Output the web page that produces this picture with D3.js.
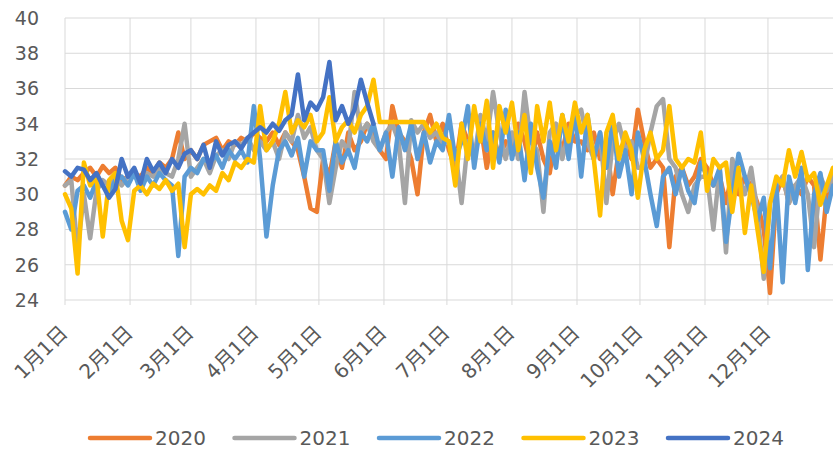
<!DOCTYPE html>
<html>
<head>
<meta charset="utf-8">
<script src="https://cdn.jsdelivr.net/npm/d3@7"></script>
<style>
  body { margin: 0; background: #fff; }
  svg { display: block; }
</style>
</head>
<body>
<svg></svg>
<script>
var width = 833;
var height = 450;

// one value every 3 days, starting at 1 Jan
var stepDays = 3;

var years = ['2020', '2021', '2022', '2023', '2024'];
var colors = ['#ED7D31', '#A5A5A5', '#5B9BD5', '#FFC000', '#4472C4'];

var v2020 = [30.5, 31.0, 30.8, 31.2, 31.5, 31.0, 31.6, 31.2, 31.5, 30.8, 31.0,
	31.2, 31.0, 31.5, 31.2, 31.8, 31.5, 32.0, 33.5, 32.0,
	32.5, 32.0, 32.8, 33.0, 33.2, 32.5, 33.0, 32.8, 33.2, 33.0, 33.5,
	33.2, 33.0, 33.5, 32.8, 33.5, 33.0, 32.5, 31.0, 29.2, 29.0,
	32.0, 31.0, 33.0, 31.5, 33.5, 32.5, 33.0, 34.0, 33.5, 32.5,
	32.0, 35.0, 33.5, 33.0, 32.0, 30.0, 33.5, 34.5, 33.0, 34.0,
	32.5, 31.5, 34.0, 33.0, 32.0, 34.0, 31.5, 33.5, 32.0, 33.0,
	32.5, 34.0, 33.0, 31.5, 33.5, 32.0, 31.2, 33.5, 32.5, 34.0, 33.0,
	33.0, 32.5, 33.5, 32.0, 33.0, 30.0, 32.5, 33.0, 32.0, 34.8,
	33.0, 31.5, 32.0, 31.5, 27.0, 31.0, 31.5, 30.5, 31.0, 32.0,
	31.5, 30.5, 31.0, 29.5, 31.3, 30.0, 31.0, 30.5, 29.5, 28.0,
	24.4, 30.0, 31.0, 29.5, 30.5, 30.0, 31.0, 30.5, 26.3, 30.0, 31.0];

var v2021 = [30.5, 30.8, 26.8, 30.0, 27.5, 30.2, 30.8, 30.5, 31.0, 30.5, 31.0,
	31.0, 30.8, 31.2, 31.0, 31.5, 31.2, 31.0, 32.0, 34.0,
	31.0, 31.5, 32.0, 31.2, 32.2, 32.5, 32.0, 33.0, 32.8, 33.2, 32.5,
	33.0, 32.5, 33.0, 32.0, 33.5, 33.0, 34.5, 33.2, 33.8, 32.5,
	32.0, 29.5, 31.5, 33.0, 32.5, 35.8, 33.5, 34.0, 33.0, 32.5,
	33.5, 34.0, 33.0, 29.5, 34.2, 33.5, 34.0, 33.2, 33.5, 32.8,
	33.0, 32.5, 29.5, 33.0, 32.0, 34.5, 33.0, 35.8, 33.5, 32.0,
	33.5, 32.0, 35.8, 33.0, 32.5, 29.0, 33.5, 34.0, 32.0, 33.5, 34.5,
	34.8, 33.0, 32.0, 33.5, 29.5, 33.0, 34.0, 32.5, 33.0, 31.5,
	31.5, 33.5, 35.0, 35.4, 32.0, 31.5, 30.0, 29.0, 30.5, 31.0,
	31.0, 28.0, 31.5, 26.7, 32.0, 31.0, 30.0, 31.5, 29.0, 25.2,
	29.5, 30.5, 31.0, 29.5, 30.5, 31.0, 30.0, 27.0, 31.0, 30.2, 31.0];

var v2022 = [29.0, 28.0, 30.2, 30.5, 29.8, 30.8, 30.5, 30.0, 30.8, 31.0, 30.5,
	31.2, 30.2, 31.0, 30.5, 31.2, 30.8, 30.5, 26.5, 31.0,
	31.5, 31.2, 32.0, 31.8, 32.2, 31.5, 32.5, 32.0, 32.5, 31.8, 35.0,
	32.0, 27.6, 30.5, 32.5, 33.0, 32.2, 33.2, 31.0, 33.0, 32.5,
	32.5, 30.2, 33.0, 31.8, 32.5, 31.5, 33.5, 33.0, 34.0, 32.5,
	33.5, 31.0, 33.8, 32.5, 34.0, 32.0, 33.5, 31.8, 33.0, 32.5,
	34.5, 32.0, 33.0, 35.0, 31.5, 34.0, 32.5, 33.5, 31.8, 34.8,
	32.0, 33.5, 30.8, 34.0, 31.5, 29.8, 33.0, 31.5, 34.5, 32.0, 34.8,
	31.0, 34.5, 32.0, 33.5, 31.5, 34.2, 31.0, 32.5, 30.0, 33.5,
	32.0, 30.0, 28.2, 31.0, 31.5, 30.0, 31.5, 30.2, 29.5, 31.8,
	31.0, 30.5, 31.5, 27.3, 30.0, 32.3, 31.0, 30.0, 28.5, 29.8,
	25.8, 30.5, 25.0, 31.0, 29.5, 31.5, 25.7, 30.0, 31.2, 29.0, 30.5];

var v2023 = [30.0, 29.2, 25.5, 31.8, 30.5, 31.0, 27.6, 30.8, 31.2, 28.5, 27.4,
	30.2, 30.5, 30.0, 30.6, 30.3, 30.8, 30.2, 30.6, 27.0,
	30.0, 30.3, 30.0, 30.5, 30.2, 31.2, 30.8, 31.8, 31.5, 32.0, 31.8,
	35.0, 32.5, 33.0, 34.0, 35.8, 33.5, 34.2, 33.8, 34.5, 33.0,
	33.5, 35.5, 33.0, 33.8, 34.2, 33.5, 34.5, 35.0, 36.5, 34.1,
	34.1, 34.1, 34.1, 34.1, 34.1, 34.1, 34.1, 33.5, 34.0, 33.2,
	33.0, 30.5, 34.0, 32.0, 35.0, 33.0, 35.3, 31.5, 35.0, 33.5,
	35.2, 32.5, 34.5, 31.2, 35.0, 33.0, 35.2, 32.5, 34.5, 33.0, 35.2,
	33.5, 34.5, 32.0, 28.8, 33.5, 34.5, 32.0, 33.5, 32.5, 29.8,
	32.5, 33.5, 32.0, 32.5, 35.0, 32.0, 31.5, 32.0, 31.8, 33.5,
	30.2, 32.0, 31.5, 31.8, 29.0, 31.5, 27.8, 30.5, 28.0, 25.6,
	29.5, 31.0, 30.5, 32.5, 31.0, 32.4, 30.8, 31.2, 29.4, 30.5, 31.5];

// 2024 runs only to late May
var v2024 = [31.3, 31.0, 31.5, 31.4, 30.8, 31.2, 30.5, 29.8, 30.3, 32.0, 31.0,
	31.5, 30.6, 32.0, 31.3, 31.8, 31.2, 32.0, 31.5, 32.3,
	32.5, 32.0, 32.8, 31.5, 33.0, 32.2, 32.8, 33.0, 32.6, 33.2, 33.5,
	33.8, 33.5, 34.0, 33.6, 34.2, 34.5, 36.8, 34.2, 35.2, 34.8,
	35.5, 37.5, 34.2, 35.0, 34.0, 34.8, 36.5, 35.2, 34.0];

var monthLabels = ['1月1日', '2月1日', '3月1日', '4月1日', '5月1日', '6月1日',
	'7月1日', '8月1日', '9月1日', '10月1日', '11月1日', '12月1日'];
var monthStartDays = [0, 31, 60, 91, 121, 152, 182, 213, 244, 274, 305, 335];
var yTicks = [24, 26, 28, 30, 32, 34, 36, 38, 40];

var allSeries = [v2020, v2021, v2022, v2023, v2024];

var svg = d3.select('svg')
		.attr('width', width)
		.attr('height', height);

var x = d3.scaleLinear()
		.domain([0, 366])
		.range([65, 833]);

var y = d3.scaleLinear()
		.domain([24, 40])
		.range([300, 18]);

var gridColor = '#d9d9d9';
var textColor = '#595959';
var font = 'DejaVu Sans, Liberation Sans, Noto Sans CJK SC, sans-serif';

// horizontal grid
svg.append('g').selectAll('line')
		.data(yTicks)
		.enter().append('line')
		.attr('x1', x(0))
		.attr('x2', x(366))
		.attr('y1', function(d){ return y(d); })
		.attr('y2', function(d){ return y(d); })
		.style('stroke', gridColor)
		.style('stroke-width', 1);

// vertical grid + tick marks below the axis
svg.append('g').selectAll('line')
		.data(monthStartDays)
		.enter().append('line')
		.attr('x1', function(d){ return x(d); })
		.attr('x2', function(d){ return x(d); })
		.attr('y1', y(40))
		.attr('y2', y(24) + 5)
		.style('stroke', gridColor)
		.style('stroke-width', 1);

// y labels
svg.append('g').selectAll('text')
		.data(yTicks)
		.enter().append('text')
		.attr('x', 39)
		.attr('y', function(d){ return y(d); })
		.attr('dy', '0.36em')
		.attr('text-anchor', 'end')
		.style('font-family', font)
		.style('font-size', '19px')
		.style('fill', textColor)
		.text(function(d){ return d; });

// x labels, rotated
svg.append('g').selectAll('text')
		.data(monthLabels)
		.enter().append('text')
		.attr('transform', function(d, i){
			return 'translate(' + (x(monthStartDays[i]) + 4) + ',334) rotate(-45)';
			})
		.attr('text-anchor', 'end')
		.style('font-family', font)
		.style('font-size', '20px')
		.style('fill', textColor)
		.text(function(d){ return d; });

var line = d3.line()
		.x(function(d, i){ return x(i * stepDays); })
		.y(function(d){ return y(d); });

svg.append('g').selectAll('path')
		.data(allSeries)
		.enter().append('path')
		.attr('d', function(d){ return line(d); })
		.style('fill', 'none')
		.style('stroke', function(d, i){ return colors[i]; })
		.style('stroke-width', 4.5)
		.style('stroke-linejoin', 'round')
		.style('stroke-linecap', 'round');

// legend
var legend = svg.append('g').selectAll('g')
		.data(years)
		.enter().append('g')
		.attr('transform', function(d, i){
			return 'translate(' + (90 + i * 144.5) + ',438)';
			});

legend.append('line')
		.attr('x1', 0)
		.attr('x2', 60)
		.style('stroke', function(d, i){ return colors[i]; })
		.style('stroke-width', 4.5)
		.style('stroke-linecap', 'round');

legend.append('text')
		.attr('x', 65)
		.attr('dy', '0.36em')
		.style('font-family', font)
		.style('font-size', '20px')
		.style('fill', textColor)
		.text(function(d){ return d; });
</script>
</body>
</html>
